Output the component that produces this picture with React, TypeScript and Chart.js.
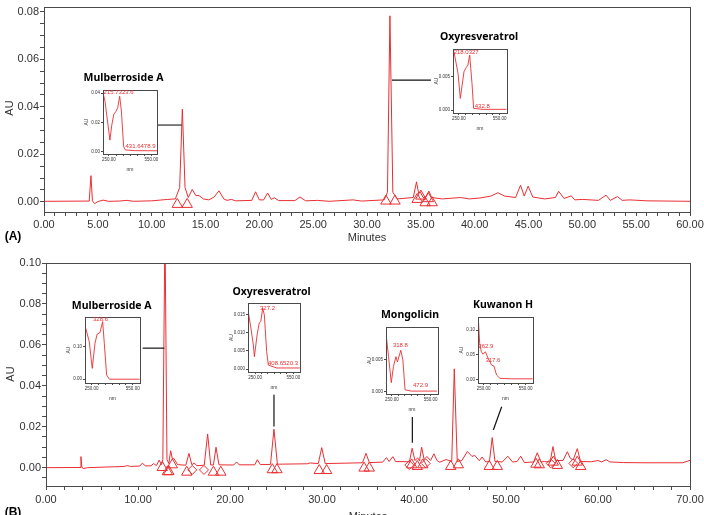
import React, { useEffect, useRef } from 'react';
import { Chart, registerables } from 'chart.js';

Chart.register(...registerables);

const RED = 'rgb(234, 46, 50)';
const AXIS = '#4a4a4a';
const TICK_TEXT = '#333333';
const SANS = '"Liberation Sans", Arial, sans-serif';
const TITLE_FONT = 'bold 10.5px "Noto Sans", "Liberation Sans", sans-serif';

// ---------- (A) chromatogram, 0–60 min ----------
const A_TIME = [
  0, 4.2, 4.36, 4.5, 4.7, 5.0, 5.5, 6.0, 7.0, 7.7, 8.3, 10.0, 11.5, 12.2, 12.6, 12.85, 13.1, 13.4,
  13.77, 14.1, 14.4, 14.8, 15.3, 15.8, 16.25, 16.7, 17.0, 17.4, 17.8, 19.3, 19.65, 20.0, 20.4, 20.77,
  21.1, 21.4, 21.8, 23.3, 23.77, 24.3, 25.4, 26.5, 28.7, 29.5, 31.6, 31.9, 32.13, 32.4, 32.8, 34.3,
  34.6, 34.8, 34.95, 35.2, 35.45, 35.75, 36.0, 37.0, 38.7, 39.5, 40.5, 41.5, 42.15, 42.8, 43.8, 44.26,
  44.6, 44.97, 45.4, 46.5, 47.5, 47.8, 48.3, 48.97, 49.3, 50.0, 51.5, 52.2, 52.6, 53.26, 53.7, 54.4,
  56.0, 60.0,
];
const A_AU = [
  0.0002, 0.0003, 0.011, 0.0004, -0.0008, 0.0001, 0.0007, 0.0002, 0.0003, 0.0006, 0.0002, 0.0004, 0.001, 0.0012, 0.006, 0.039, 0.006, 0.0018,
  0.0052, 0.0026, 0.0026, 0.0012, 0.0008, 0.002, 0.0046, 0.0012, 0.0006, 0.001, 0.0004, 0.0006, 0.0042, 0.0008, 0.0008, 0.0037,
  0.001, 0.0017, 0.0005, 0.0005, 0.002, 0.0004, 0.0006, 0.0002, 0.0008, 0.0003, 0.0008, 0.004, 0.0783, 0.004, 0.0012, 0.0018,
  0.0084, 0.0035, 0.0042, 0.0018, 0.002, 0.0045, 0.0018, 0.0012, 0.0018, 0.0012, 0.0016, 0.0024, 0.0038, 0.0024, 0.0018, 0.007,
  0.0024, 0.0066, 0.002, 0.0012, 0.0018, 0.0044, 0.0014, 0.0025, 0.0008, 0.001, 0.0006, 0.0028, 0.0006, 0.0022, 0.0006, 0.0008,
  0.0004, 0.0002,
];
// integration start/end markers
const A_MARK_TIME = [12.38, 13.3, 31.76, 32.6, 34.66, 35.0, 35.4, 35.7, 36.05];
const A_MARK_AU = [-0.0011, -0.0011, 0.0003, 0.0003, 0.001, 0.0024, -0.0004, 0.0013, -0.0004];
const A_X_LABELS = ['0.00', '5.00', '10.00', '15.00', '20.00', '25.00', '30.00', '35.00', '40.00', '45.00', '50.00', '55.00', '60.00'];
const A_Y_LABELS = ['0.00', '0.02', '0.04', '0.06', '0.08'];

// ---------- (B) chromatogram, 0–70 min ----------
const B_TIME = [
  0, 3.7, 3.8, 3.9, 4.1, 4.5, 8.5, 8.85, 9.2, 10.2, 10.47, 10.8, 11.4, 11.7, 12.0, 12.3, 12.55, 12.7,
  12.93, 13.15, 13.35, 13.55, 13.75, 13.9, 14.3, 15.2, 15.54, 15.85, 16.1, 16.4, 17.2, 17.57, 17.9,
  18.2, 18.48, 18.8, 20.4, 20.72, 21.0, 22.7, 22.97, 23.3, 24.4, 24.78, 25.15, 28.4, 28.7, 29.6,
  29.97, 30.35, 34.4, 34.78, 35.15, 36.6, 37.0, 37.3, 37.7, 38.0, 39.5, 39.8, 40.1, 40.4, 40.6, 40.83,
  41.1, 41.4, 41.8, 42.17, 42.5, 42.8, 43.5, 44.1, 44.38, 44.7, 45.2, 45.8, 46.3, 46.6, 47.1, 47.4,
  47.8, 48.2, 48.5, 48.8, 49.6, 50.2, 50.7, 51.2, 51.6, 52.0, 53.0, 53.4, 53.8, 54.2, 54.8, 55.1,
  55.4, 56.2, 56.67, 57.0, 57.3, 57.75, 58.1, 59.3, 60.0, 60.4, 60.9, 61.3, 62.8, 65.0, 69.2, 70.0,
];
const B_AU = [
  0.0, 0.0001, 0.0054, 0.0001, -0.0004, 0.0, 0.0006, 0.001, 0.0006, 0.0008, 0.0022, 0.0009, 0.0009, 0.002, 0.001, 0.0037, 0.0015, 0.004,
  0.118, 0.004, 0.002, 0.0083, 0.004, 0.0045, 0.0015, 0.0012, 0.007, 0.0014, 0.0023, 0.001, 0.0012, 0.0165, 0.0013,
  0.0013, 0.01, 0.0014, 0.0013, 0.0028, 0.0014, 0.0014, 0.0039, 0.0015, 0.0016, 0.0188, 0.0017, 0.0019, 0.0023, 0.002,
  0.0098, 0.002, 0.0024, 0.007, 0.0025, 0.0027, 0.0049, 0.003, 0.0054, 0.003, 0.0029, 0.0095, 0.0035, 0.0048, 0.0033, 0.01,
  0.004, 0.0055, 0.0035, 0.0068, 0.0035, 0.0027, 0.004, 0.003, 0.0483, 0.003, 0.0035, 0.0079, 0.0055, 0.006, 0.0034, 0.0052,
  0.0028, 0.003, 0.0147, 0.003, 0.0028, 0.0056, 0.0028, 0.003, 0.0056, 0.0025, 0.0028, 0.0073, 0.0028, 0.003, 0.0028, 0.0103,
  0.0035, 0.0035, 0.0078, 0.0045, 0.0038, 0.0093, 0.003, 0.0029, 0.0035, 0.0028, 0.0039, 0.0028, 0.0025, 0.0024, 0.0024, 0.0036,
];
const B_MARK_TIME = [
  12.64, 13.2, 13.35, 13.73, 15.3, 15.9, 17.17, 18.2, 19.0, 24.6, 25.1, 29.7, 30.5, 34.57, 35.14,
  39.49, 39.75, 40.36, 40.95, 41.27, 43.99, 44.82, 48.18, 49.05, 53.26, 53.62, 54.86, 55.14, 55.58,
  57.32, 57.75, 58.12,
];
const B_MARK_AU = [
  0.0001, -0.002, -0.0019, 0.0014, -0.0022, -0.0011, -0.0011, -0.0022, -0.0022, -0.001, -0.001, -0.0014, -0.0014, -0.0002, -0.0002,
  0.0013, 0.0014, 0.0006, 0.0014, 0.0021, 0.0006, 0.0014, 0.0006, 0.0006, 0.0017, 0.0014, 0.0021, 0.0027, 0.0011,
  0.0021, 0.0027, 0.0006,
];
// 't' = triangle, 'd' = diamond
const B_MARK_SHAPE = [
  't', 't', 't', 't', 't', 'd', 'd', 't', 't', 't', 't', 't', 't', 't', 't',
  'd', 't', 't', 't', 'd', 't', 't', 't', 't', 't', 't', 'd', 't', 't',
  'd', 't', 't',
];
const B_X_LABELS = ['0.00', '10.00', '20.00', '30.00', '40.00', '50.00', '60.00', '70.00'];
const B_Y_LABELS = ['0.00', '0.02', '0.04', '0.06', '0.08', '0.10'];

// ---------- UV spectra of the labelled peaks ----------
const NM_LABELS = ['250.00', '550.00'];

const A_MUL_NM = [211, 222, 257, 270, 285, 300, 312, 326, 338, 354, 366, 430, 590];
const A_MUL_AU = [0.039, 0.0345, 0.0078, 0.018, 0.0256, 0.0275, 0.03, 0.0378, 0.0278, 0.0033, 0.0011, 0.0006, 0.0005];
const A_MUL_Y_LABELS = ['0.00', '0.02', '0.04'];

const A_OXY_NM = [213, 243, 260, 287, 304, 316, 329, 346, 358, 420, 600];
const A_OXY_AU = [0.00875, 0.0055, 0.00175, 0.00575, 0.0064, 0.00675, 0.00825, 0.004, 0.00025, 0.0001, 0.0001];
const A_OXY_Y_LABELS = ['0.000', '0.005'];

const B_MUL_NM = [206, 232, 254, 274, 290, 310, 330, 342, 359, 379, 450, 600];
const B_MUL_AU = [0.156, 0.115, 0.033, 0.11, 0.138, 0.142, 0.176, 0.11, 0.013, 0.0, 0.0, 0.0];
const B_MUL_Y_LABELS = ['0.00', '0.10'];

const B_OXY_NM = [198, 216, 237, 245, 268, 284, 295, 310, 323, 341, 354, 420, 600];
const B_OXY_AU = [0.0155, 0.0116, 0.0066, 0.0034, 0.0098, 0.0127, 0.013, 0.0167, 0.0148, 0.0048, 0.0011, 0.0003, 0.0003];
const B_OXY_Y_LABELS = ['0.000', '0.005', '0.010', '0.015'];

const MONG_NM = [206, 224, 245, 262, 281, 293, 319, 335, 352, 400, 600];
const MONG_AU = [0.0086, 0.0054, 0.0014, 0.0039, 0.0054, 0.0046, 0.0064, 0.0049, 0.0003, 0.0001, 0.0001];
const MONG_Y_LABELS = ['0.000', '0.005'];

const KUW_NM = [212, 221, 233, 245, 262, 281, 306, 323, 342, 366, 450, 600];
const KUW_AU = [0.12, 0.073, 0.056, 0.051, 0.056, 0.043, 0.029, 0.027, 0.0087, 0.002, 0.001, 0.001];
const KUW_Y_LABELS = ['0.00', '0.05', '0.10'];

type Txt = { text: string; x: number; y: number; font?: string; color?: string; align?: CanvasTextAlign; rot?: boolean };
type Seg = { x1: number; y1: number; x2: number; y2: number; color: string; width: number };

type Decor = {
  frame?: string;
  texts?: Txt[]; // canvas pixels
  dataTexts?: Txt[]; // data coordinates
  lines?: Seg[]; // data coordinates
  insetTitles?: boolean;
};

function makeDecor(d: Decor) {
  return {
    id: 'decor',
    afterDraw(chart: any) {
      const { ctx, chartArea: a, scales } = chart;
      const xs = scales.x;
      const ys = scales.y;
      ctx.save();
      if (d.frame) {
        ctx.strokeStyle = d.frame;
        ctx.lineWidth = 1;
        ctx.strokeRect(Math.round(a.left) + 0.5, Math.round(a.top) + 0.5, Math.round(a.right - a.left), Math.round(a.bottom - a.top));
      }
      for (const l of d.lines || []) {
        ctx.strokeStyle = l.color;
        ctx.lineWidth = l.width;
        ctx.beginPath();
        ctx.moveTo(xs.getPixelForValue(l.x1), ys.getPixelForValue(l.y1));
        ctx.lineTo(xs.getPixelForValue(l.x2), ys.getPixelForValue(l.y2));
        ctx.stroke();
      }
      const put = (t: Txt, x: number, y: number) => {
        ctx.font = t.font || `11px ${SANS}`;
        ctx.fillStyle = t.color || TICK_TEXT;
        ctx.textAlign = t.align || 'center';
        ctx.textBaseline = 'middle';
        if (t.rot) {
          ctx.save();
          ctx.translate(x, y);
          ctx.rotate(-Math.PI / 2);
          ctx.fillText(t.text, 0, 0);
          ctx.restore();
        } else {
          ctx.fillText(t.text, x, y);
        }
      };
      for (const t of d.texts || []) put(t, t.x, t.y);
      for (const t of d.dataTexts || []) put(t, xs.getPixelForValue(t.x), ys.getPixelForValue(t.y));
      if (d.insetTitles) {
        put({ text: 'AU', x: 0, y: 0, font: `5px ${SANS}`, rot: true }, a.left - 16.5, (a.top + a.bottom) / 2);
        put({ text: 'nm', x: 0, y: 0, font: `5px ${SANS}` }, (a.left + a.right) / 2, a.bottom + 16);
      }
      ctx.restore();
    },
  };
}

function steps(from: number, to: number, step: number) {
  const out: number[] = [];
  for (let v = from; v <= to + 1e-9; v += step) out.push(+v.toFixed(4));
  return out;
}

type MainSpec = {
  time: number[];
  au: number[];
  markTime: number[];
  markAu: number[];
  markShape?: string[];
  xMax: number;
  xStep: number;
  xLabels: string[];
  yMin: number;
  yMax: number;
  yFrom: number;
  yLabels: string[];
  padTop: number;
  padRight: number;
  yWidth: number;
  xHeight: number;
  xLabelPad: number;
  decor: Decor;
};

function mainConfig(m: MainSpec): any {
  const xTicks = steps(0, m.xMax, m.xStep);
  const yTicks = steps(m.yFrom, m.yMax, 0.005);
  const xLab = new Map(m.xLabels.map((l) => [parseFloat(l), l]));
  const yLab = new Map(m.yLabels.map((l) => [parseFloat(l), l]));
  const shapes = m.markTime.map((_, i) => (m.markShape && m.markShape[i] === 'd' ? 'rectRot' : 'triangle'));
  const radii = m.markTime.map((_, i) => (m.markShape && m.markShape[i] === 'd' ? 4.5 : 6));
  return {
    type: 'line',
    data: {
      datasets: [
        {
          data: m.time.map((x, i) => ({ x, y: m.au[i] })),
          borderColor: RED,
          borderWidth: 1,
          pointRadius: 0,
          tension: 0,
        },
        {
          data: m.markTime.map((x, i) => ({ x, y: m.markAu[i] })),
          showLine: false,
          pointStyle: shapes,
          pointRadius: radii,
          pointBorderColor: RED,
          pointBackgroundColor: 'rgba(0,0,0,0)',
          pointBorderWidth: 1,
          clip: false,
        },
      ],
    },
    options: {
      animation: false,
      responsive: false,
      events: [],
      layout: { padding: { left: 0, top: m.padTop, right: m.padRight, bottom: 0 } },
      plugins: { legend: { display: false }, tooltip: { enabled: false } },
      scales: {
        x: {
          type: 'linear',
          min: 0,
          max: m.xMax,
          afterBuildTicks: (ax: any) => {
            ax.ticks = xTicks.map((value) => ({ value }));
          },
          afterFit: (s: any) => {
            s.height = m.xHeight;
            s.paddingLeft = 0;
            s.paddingRight = 0;
          },
          ticks: {
            autoSkip: false,
            maxRotation: 0,
            padding: m.xLabelPad,
            color: TICK_TEXT,
            font: { family: SANS, size: 11 },
            callback: (v: any) => xLab.get(+Number(v).toFixed(4)) ?? '',
          },
          grid: { drawOnChartArea: false, drawTicks: true, tickLength: 4, color: AXIS },
          border: { display: true, color: AXIS },
        },
        y: {
          type: 'linear',
          min: m.yMin,
          max: m.yMax,
          afterBuildTicks: (ax: any) => {
            ax.ticks = yTicks.map((value) => ({ value }));
          },
          afterFit: (s: any) => {
            s.width = m.yWidth;
            s.paddingTop = 0;
            s.paddingBottom = 0;
          },
          ticks: {
            autoSkip: false,
            padding: 1,
            color: TICK_TEXT,
            font: { family: SANS, size: 11 },
            callback: (v: any) => yLab.get(+Number(v).toFixed(4)) ?? '',
          },
          grid: { drawOnChartArea: false, drawTicks: true, tickLength: 4, color: AXIS },
          border: { display: true, color: AXIS },
        },
      },
    },
    plugins: [makeDecor(m.decor)],
  };
}

// inset canvas margins around the spectrum box
const IN_LEFT = 26;
const IN_TOP = 4;
const IN_RIGHT = 6;
const IN_BOTTOM = 22;

type InsetSpec = {
  box: [number, number, number, number]; // left, top, right, bottom (page px)
  xMin: number;
  xMax: number;
  yMin: number;
  yMax: number;
  nm: number[];
  au: number[];
  yLabels: string[];
  labels: Txt[];
};

function insetConfig(s: InsetSpec): any {
  const nmTicks = steps(250, 550, 50);
  const nmLab = new Map(NM_LABELS.map((l) => [parseFloat(l), l]));
  const yLab = new Map(s.yLabels.map((l) => [parseFloat(l), l]));
  return {
    type: 'line',
    data: {
      datasets: [
        {
          data: s.nm.map((x, i) => ({ x, y: s.au[i] })),
          borderColor: RED,
          borderWidth: 0.9,
          pointRadius: 0,
          tension: 0,
        },
      ],
    },
    options: {
      animation: false,
      responsive: false,
      events: [],
      layout: { padding: { left: 0, top: IN_TOP, right: IN_RIGHT, bottom: 0 } },
      plugins: { legend: { display: false }, tooltip: { enabled: false } },
      scales: {
        x: {
          type: 'linear',
          min: s.xMin,
          max: s.xMax,
          afterBuildTicks: (ax: any) => {
            ax.ticks = nmTicks.map((value) => ({ value }));
          },
          afterFit: (sc: any) => {
            sc.height = IN_BOTTOM;
            sc.paddingLeft = 0;
            sc.paddingRight = 0;
          },
          ticks: {
            autoSkip: false,
            maxRotation: 0,
            padding: 1,
            color: TICK_TEXT,
            font: { family: SANS, size: 4.5 },
            callback: (v: any) => nmLab.get(+Number(v).toFixed(4)) ?? '',
          },
          grid: { drawOnChartArea: false, drawTicks: true, tickLength: 2, color: AXIS },
          border: { display: true, color: AXIS },
        },
        y: {
          type: 'linear',
          min: s.yMin,
          max: s.yMax,
          afterBuildTicks: (ax: any) => {
            ax.ticks = s.yLabels.map((l) => ({ value: parseFloat(l) }));
          },
          afterFit: (sc: any) => {
            sc.width = IN_LEFT;
            sc.paddingTop = 0;
            sc.paddingBottom = 0;
          },
          ticks: {
            autoSkip: false,
            padding: 1,
            color: TICK_TEXT,
            font: { family: SANS, size: 4.5 },
            callback: (v: any) => yLab.get(+Number(v).toFixed(4)) ?? '',
          },
          grid: { drawOnChartArea: false, drawTicks: true, tickLength: 2, color: AXIS },
          border: { display: true, color: AXIS },
        },
      },
    },
    plugins: [makeDecor({ frame: AXIS, dataTexts: s.labels, insetTitles: true })],
  };
}

const peakLabel = (text: string, x: number, y: number): Txt => ({
  text,
  x,
  y,
  font: `6px ${SANS}`,
  color: RED,
  align: 'left',
});

const INSETS: InsetSpec[] = [
  {
    box: [103, 90, 157, 154],
    xMin: 208, xMax: 590, yMin: -0.0017, yMax: 0.0421,
    nm: A_MUL_NM, au: A_MUL_AU, yLabels: A_MUL_Y_LABELS,
    labels: [peakLabel('215.7323.6', 212, 0.0405), peakLabel('431.6478.9', 367, 0.0033)],
  },
  {
    box: [453, 49, 507, 113],
    xMin: 206, xMax: 604, yMin: -0.00045, yMax: 0.00916,
    nm: A_OXY_NM, au: A_OXY_AU, yLabels: A_OXY_Y_LABELS,
    labels: [peakLabel('218.0327', 211, 0.0086), peakLabel('432.8', 366, 0.0006)],
  },
  {
    box: [85, 317, 140, 383],
    xMin: 201, xMax: 603, yMin: -0.0116, yMax: 0.19,
    nm: B_MUL_NM, au: B_MUL_AU, yLabels: B_MUL_Y_LABELS,
    labels: [peakLabel('328.6', 259.5, 0.183)],
  },
  {
    box: [248, 303, 300, 372],
    xMin: 195, xMax: 602, yMin: -0.0008, yMax: 0.0181,
    nm: B_OXY_NM, au: B_OXY_AU, yLabels: B_OXY_Y_LABELS,
    labels: [peakLabel('327.2', 289, 0.0167), peakLabel('408.6520.3', 351.6, 0.0017)],
  },
  {
    box: [386, 327, 438, 394],
    xMin: 204, xMax: 608, yMin: -0.00035, yMax: 0.00998,
    nm: MONG_NM, au: MONG_AU, yLabels: MONG_Y_LABELS,
    labels: [peakLabel('318.8', 257.7, 0.0072), peakLabel('472.9', 414, 0.001)],
  },
  {
    box: [478, 317, 533, 383],
    xMin: 209, xMax: 603, yMin: -0.0075, yMax: 0.1266,
    nm: KUW_NM, au: KUW_AU, yLabels: KUW_Y_LABELS,
    labels: [peakLabel('262.9', 211.5, 0.066), peakLabel('317.6', 262, 0.039)],
  },
];

const A_SPEC: MainSpec = {
  time: A_TIME,
  au: A_AU,
  markTime: A_MARK_TIME,
  markAu: A_MARK_AU,
  xMax: 60,
  xStep: 1,
  xLabels: A_X_LABELS,
  yMin: -0.0043,
  yMax: 0.082,
  yFrom: 0,
  yLabels: A_Y_LABELS,
  padTop: 7,
  padRight: 14,
  yWidth: 44,
  xHeight: 38,
  xLabelPad: 2,
  decor: {
    frame: AXIS,
    texts: [
      { text: 'AU', x: 10, y: 108, rot: true },
      { text: 'Minutes', x: 367, y: 238 },
      { text: '(A)', x: 13, y: 237, font: `bold 12px ${SANS}`, color: '#000' },
      { text: 'Mulberroside A', x: 123.5, y: 78, font: TITLE_FONT, color: '#000' },
      { text: 'Oxyresveratrol', x: 479, y: 37, font: TITLE_FONT, color: '#000' },
    ],
    lines: [
      { x1: 10.59, y1: 0.0323, x2: 12.82, y2: 0.0323, color: '#555', width: 1.5 },
      { x1: 32.32, y1: 0.0512, x2: 35.94, y2: 0.0512, color: '#111', width: 1.2 },
    ],
  },
};

const B_SPEC: MainSpec = {
  time: B_TIME,
  au: B_AU,
  markTime: B_MARK_TIME,
  markAu: B_MARK_AU,
  markShape: B_MARK_SHAPE,
  xMax: 70,
  xStep: 2,
  xLabels: B_X_LABELS,
  yMin: -0.00895,
  yMax: 0.1,
  yFrom: -0.005,
  yLabels: B_Y_LABELS,
  padTop: 13,
  padRight: 14,
  yWidth: 46,
  xHeight: 29,
  xLabelPad: 3,
  decor: {
    frame: AXIS,
    texts: [
      { text: 'AU', x: 11, y: 124, rot: true },
      { text: 'Minutes', x: 368, y: 267 },
      { text: '(B)', x: 13, y: 263, font: `bold 12px ${SANS}`, color: '#000' },
      { text: 'Mulberroside A', x: 111.7, y: 56, font: TITLE_FONT, color: '#000' },
      { text: 'Oxyresveratrol', x: 271.5, y: 41.7, font: TITLE_FONT, color: '#000' },
      { text: 'Mongolicin', x: 410, y: 65, font: TITLE_FONT, color: '#000' },
      { text: 'Kuwanon H', x: 503, y: 55, font: TITLE_FONT, color: '#000' },
    ],
    lines: [
      { x1: 10.51, y1: 0.0584, x2: 12.86, y2: 0.0584, color: '#111', width: 1.2 },
      { x1: 24.78, y1: 0.0356, x2: 24.78, y2: 0.0201, color: '#111', width: 1.2 },
      { x1: 39.82, y1: 0.0247, x2: 39.82, y2: 0.0122, color: '#111', width: 1.2 },
      { x1: 49.53, y1: 0.0298, x2: 48.62, y2: 0.0184, color: '#111', width: 1.2 },
    ],
  },
};

function ChartCanvas({ make, left, top, width, height }: { make: () => any; left: number; top: number; width: number; height: number }) {
  const ref = useRef<HTMLCanvasElement | null>(null);
  useEffect(() => {
    const chart = new Chart(ref.current as HTMLCanvasElement, make());
    return () => chart.destroy();
  }, []);
  return (
    <canvas
      ref={ref}
      width={width}
      height={height}
      style={{ position: 'absolute', left, top, width, height, display: 'block' }}
    />
  );
}

export default function App() {
  return (
    <div
      style={{
        position: 'fixed',
        left: 0,
        top: 0,
        width: 704,
        height: 515,
        background: '#fff',
        overflow: 'hidden',
      }}
    >
      <ChartCanvas make={() => mainConfig(A_SPEC)} left={0} top={0} width={704} height={250} />
      <ChartCanvas make={() => mainConfig(B_SPEC)} left={0} top={250} width={704} height={265} />
      {INSETS.map((s, i) => {
        const [l, t, r, b] = s.box;
        return (
          <ChartCanvas
            key={i}
            make={() => insetConfig(s)}
            left={l - IN_LEFT}
            top={t - IN_TOP}
            width={r - l + IN_LEFT + IN_RIGHT}
            height={b - t + IN_TOP + IN_BOTTOM}
          />
        );
      })}
    </div>
  );
}
